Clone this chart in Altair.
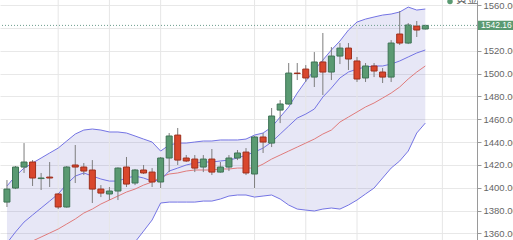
import altair as alt
import pandas as pd

# ---- data ----
opens  = [1387.4, 1399.7, 1418.1, 1422.5, 1408.0, 1409.3, 1394.5, 1383.1, 1419.9, 1418.1,
          1415.5, 1398.8, 1394.5, 1397.1, 1418.1, 1404.1, 1415.5, 1413.7, 1405.0, 1426.0,
          1446.1, 1426.0, 1425.1, 1418.1, 1425.1, 1413.7, 1418.1, 1426.0, 1431.2, 1412.0,
          1444.4, 1439.1, 1468.0, 1473.3, 1500.4, 1503.9, 1496.9, 1510.1, 1501.3, 1515.3,
          1522.3, 1511.0, 1496.1, 1506.6, 1501.3, 1496.9, 1534.6, 1526.7, 1541.6, 1539.0]
highs  = [1406.7, 1419.0, 1439.1, 1424.2, 1412.9, 1422.5, 1395.3, 1419.0, 1437.4, 1421.6,
          1424.2, 1402.3, 1400.6, 1417.8, 1426.9, 1416.4, 1419.9, 1417.2, 1426.9, 1447.9,
          1452.3, 1428.6, 1428.6, 1428.6, 1433.9, 1422.5, 1428.6, 1433.0, 1434.7, 1445.3,
          1447.9, 1469.8, 1476.8, 1509.2, 1509.2, 1507.4, 1518.8, 1535.5, 1523.2, 1526.7,
          1526.7, 1514.5, 1509.2, 1509.2, 1504.8, 1529.3, 1554.7, 1544.2, 1546.0, 1542.6]
lows   = [1383.1, 1398.8, 1412.9, 1401.5, 1398.0, 1400.6, 1381.3, 1382.5, 1404.1, 1411.1,
          1386.6, 1391.8, 1389.2, 1389.2, 1400.6, 1402.3, 1412.0, 1400.6, 1399.7, 1413.7,
          1419.9, 1422.5, 1413.7, 1413.7, 1411.1, 1413.2, 1414.6, 1424.2, 1411.1, 1399.7,
          1430.4, 1435.6, 1456.6, 1472.8, 1494.3, 1492.6, 1488.2, 1481.2, 1494.3, 1508.3,
          1503.1, 1492.6, 1492.6, 1496.9, 1491.7, 1492.6, 1525.0, 1525.8, 1532.0, 1538.6]
closes = [1398.8, 1418.1, 1422.5, 1408.5, 1408.5, 1408.5, 1383.1, 1418.1, 1418.1, 1414.6,
          1398.8, 1395.3, 1397.1, 1417.2, 1403.2, 1415.5, 1412.9, 1405.0, 1426.0, 1445.3,
          1424.2, 1423.4, 1417.2, 1425.1, 1413.7, 1418.1, 1426.0, 1430.4, 1412.9, 1444.4,
          1440.0, 1462.8, 1473.3, 1500.4, 1500.0, 1496.1, 1510.1, 1501.3, 1515.3, 1522.3,
          1512.7, 1495.2, 1506.6, 1502.2, 1496.9, 1526.7, 1526.7, 1542.5, 1538.1, 1542.16]
upper_band = [1401.5, 1410.2, 1417.2, 1421.6, 1426.0, 1430.4, 1434.7, 1440.9, 1447.0, 1450.5,
              1451.4, 1450.5, 1448.8, 1448.8, 1447.9, 1445.3, 1442.6, 1440.0, 1432.1, 1437.4,
              1439.1, 1439.1, 1440.0, 1440.9, 1440.9, 1441.8, 1441.8, 1441.8, 1442.6, 1446.1,
              1447.9, 1453.1, 1461.9, 1470.7, 1482.9, 1493.4, 1503.1, 1511.8, 1520.6, 1528.5,
              1538.1, 1545.1, 1547.7, 1549.5, 1551.2, 1552.1, 1553.9, 1558.2, 1555.6, 1556.5]
lower_band = [1280.6, 1278.8, 1280.6, 1285.0, 1287.6, 1290.2, 1292.9, 1295.5, 1298.1, 1305.1,
              1311.2, 1320.9, 1329.6, 1336.6, 1344.5, 1352.4, 1362.0, 1371.7, 1386.6, 1387.4,
              1387.4, 1387.4, 1387.4, 1388.3, 1388.3, 1390.1, 1392.7, 1393.6, 1393.6, 1391.8,
              1392.7, 1393.6, 1390.1, 1384.8, 1381.3, 1380.4, 1379.6, 1381.3, 1382.2, 1381.3,
              1384.8, 1389.2, 1394.5, 1399.7, 1408.5, 1417.2, 1423.4, 1432.1, 1447.9, 1456.6]
mid_band = [1341.0, 1344.5, 1348.9, 1353.3, 1356.8, 1360.3, 1363.8, 1368.2, 1372.6, 1377.8,
            1381.3, 1385.7, 1389.2, 1392.7, 1396.2, 1398.8, 1402.3, 1405.0, 1409.3, 1412.0,
            1412.9, 1414.6, 1415.5, 1415.5, 1415.5, 1416.4, 1416.4, 1417.2, 1417.2, 1417.2,
            1420.7, 1425.1, 1428.6, 1432.1, 1435.6, 1439.1, 1442.6, 1447.0, 1450.5, 1457.5,
            1461.9, 1466.3, 1470.7, 1474.2, 1478.5, 1482.9, 1488.2, 1495.2, 1501.3, 1506.6]
fast_ma = [1351.5, 1361.2, 1369.9, 1376.1, 1382.2, 1388.3, 1394.5, 1403.2, 1410.2, 1412.9,
           1410.2, 1407.6, 1405.8, 1405.8, 1408.5, 1410.2, 1408.5, 1405.8, 1406.7, 1414.6,
           1417.2, 1419.9, 1421.6, 1422.5, 1422.5, 1423.4, 1424.2, 1426.0, 1428.6, 1431.2,
           1434.7, 1440.0, 1447.0, 1454.0, 1461.0, 1464.5, 1468.9, 1479.4, 1487.3, 1496.1,
           1501.3, 1503.9, 1505.7, 1506.6, 1506.6, 1508.3, 1511.0, 1514.5, 1518.0, 1520.6]
grid_positions = [6, 12, 18, 29, 35, 41, 51]
y_ticks = [1360, 1380, 1400, 1420, 1440, 1460, 1480, 1500, 1520, 1540, 1560]
last_price = 1542.16
legend_label = "黄金"

GREEN = "#5a9a72"
GREEN_DARK = "#3e7355"
RED = "#d9472d"
RED_DARK = "#9e2f1c"
BAND = "#7474e4"

n = len(opens)
df = pd.DataFrame({
    "i": list(range(n)), "open": opens, "high": highs, "low": lows, "close": closes,
    "upper": upper_band, "lower": lower_band, "mid": mid_band, "fast": fast_ma,
})
df["dir"] = ["up" if c >= o else "down" for o, c in zip(opens, closes)]
grid_df = pd.DataFrame({"i": grid_positions})

xs = alt.Scale(domain=[-0.23, 54.47], nice=False, zero=False)
ys = alt.Scale(domain=[1354.2, 1564.4], nice=False, zero=False)
# the 1540 label sits under the last-price box in the reference, so it is left blank
yaxis = alt.Axis(orient="right", values=y_ticks, format=".2f", title=None, zindex=0,
                 labelExpr="abs(datum.value - 1540) < 0.5 ? '' : datum.label",
                 grid=True, gridColor="#e8e8e8", domainColor="#9a9a9a",
                 tickColor="#9a9a9a", tickSize=4, labelPadding=2,
                 labelFontSize=9.5, labelColor="#666666", labelFont="Liberation Sans")
X = alt.X("i:Q", scale=xs, axis=None)

def Y(field):
    return alt.Y(field, type="quantitative", scale=ys, axis=yaxis)

base = alt.Chart(df)

band = base.mark_area(color="#6a6ac8", opacity=0.16, clip=True).encode(
    x=X, y=Y("upper"), y2="lower")

vgrid = alt.Chart(grid_df).mark_rule(color="#e6e6e6", strokeWidth=1, clip=True).encode(
    x=alt.X("i:Q", scale=xs, axis=None))

up_line = base.mark_line(color=BAND, strokeWidth=1, clip=True).encode(x=X, y=Y("upper"))
lo_line = base.mark_line(color=BAND, strokeWidth=1, clip=True).encode(x=X, y=Y("lower"))
fast_line = base.mark_line(color=BAND, strokeWidth=1, clip=True).encode(x=X, y=Y("fast"))
mid_line = base.mark_line(color="#e07b7b", strokeWidth=1, clip=True).encode(x=X, y=Y("mid"))

wick = base.mark_rule(color="#7d7d7d", strokeWidth=1, clip=True).encode(
    x=X, y=Y("low"), y2="high")

body = base.mark_bar(size=6, strokeWidth=1, clip=True).encode(
    x=X, y=Y("open"), y2="close",
    fill=alt.Fill("dir:N", scale=alt.Scale(domain=["up", "down"], range=[GREEN, RED]), legend=None),
    stroke=alt.Stroke("dir:N", scale=alt.Scale(domain=["up", "down"], range=[GREEN_DARK, RED_DARK]), legend=None),
)

last_rule = alt.Chart(pd.DataFrame({"p": [last_price]})).mark_rule(
    color="#6c9c8c", strokeDash=[1, 2], strokeWidth=1).encode(y=Y("p"))

box_df = pd.DataFrame({"p": [last_price], "label": [f"{last_price:.2f}"]})
box = alt.Chart(box_df).mark_rect(color=GREEN, clip=False).encode(
    x=alt.value(478), x2=alt.value(540),
    y=alt.Y("top:Q", scale=ys, axis=yaxis), y2="bot:Q",
).transform_calculate(top="datum.p + 4", bot="datum.p - 4")
box_text = alt.Chart(box_df).mark_text(color="white", fontSize=8.5, align="left",
                                       baseline="middle", font="Liberation Sans").encode(
    x=alt.value(481), y=Y("p"), text="label:N")

leg_dot = alt.Chart(pd.DataFrame({"t": [legend_label]})).mark_circle(
    color=GREEN, size=30, opacity=1).encode(x=alt.value(450), y=alt.value(1.5))
leg_text = alt.Chart(pd.DataFrame({"t": [legend_label]})).mark_text(
    color="#666666", fontSize=11, align="left", baseline="alphabetic",
    font="Noto Sans CJK SC").encode(x=alt.value(456), y=alt.value(3), text="t:N")

chart = alt.layer(
    band, vgrid, up_line, lo_line, mid_line, fast_line, wick, body,
    last_rule, box, box_text, leg_dot, leg_text
).properties(
    width=477, height=240,
    padding={"left": 0, "top": 0, "right": 36, "bottom": 0},
    autosize="none",
).configure_view(stroke=None)

chart.save("out.html", embed_options={"renderer": "svg", "actions": False})
